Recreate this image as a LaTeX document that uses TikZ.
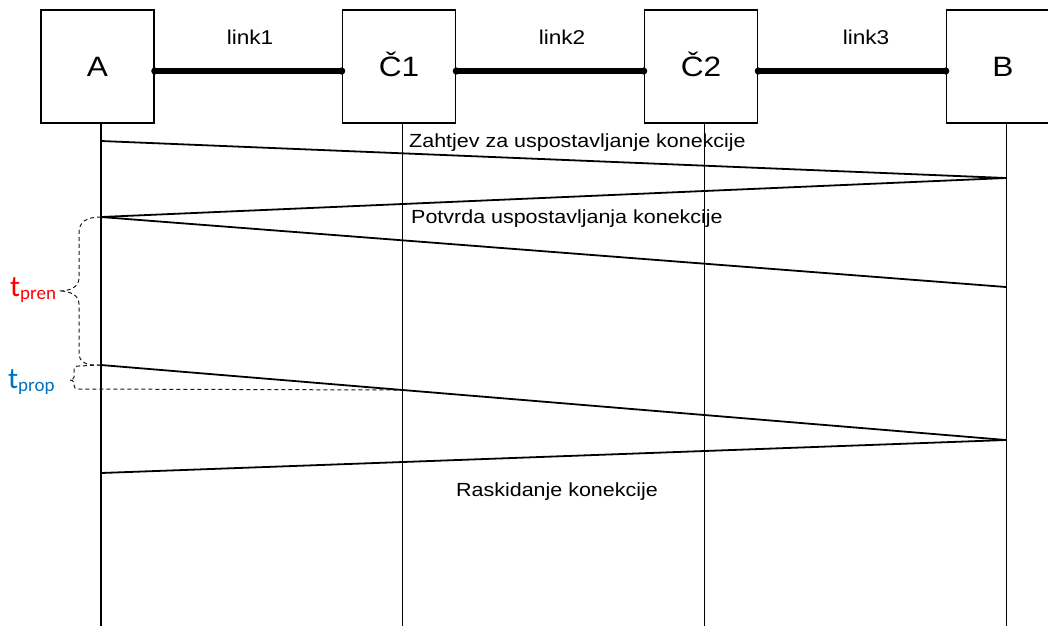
\documentclass[tikz,border=0pt]{standalone}
\usepackage{fontspec}
\usetikzlibrary{calc}
\setmainfont[FakeStretch=1.13]{Liberation Sans}
\newfontfamily\calib{Carlito}
\definecolor{tred}{RGB}{255,0,0}
\definecolor{tblue}{RGB}{0,112,192}
\begin{document}
\begin{tikzpicture}[x=1pt,y=-1pt,
  box/.style={draw, line width=1.6pt, minimum width=113pt, minimum height=113pt, inner sep=0pt,
    text height=20pt, text depth=0pt, font=\fontsize{28}{28}\selectfont},
  linkline/.style={line width=5.5pt},
  life/.style={line width=1.8pt},
  msg/.style={line width=1.8pt},
  brace/.style={line width=1pt, dash pattern=on 4pt off 3pt, black!90},
  lbl/.style={inner sep=0pt, font=\fontsize{20}{20}\selectfont},
  msgtxt/.style={inner sep=0pt, font=\fontsize{19}{19}\selectfont}]
\useasboundingbox (0,0) rectangle (1048,625);
% boxes
\node[box] (A)  at (97.5,66.5) {A};
\node[box] (C1) at (399,66.5) {Č1};
\node[box] (C2) at (701,66.5) {Č2};
\node[box] (B)  at (1003,66.5) {B};
% link end points
\coordinate (ae)  at ([yshift=-4.5]A.east);
\coordinate (c1w) at ([yshift=-4.5]C1.west);
\coordinate (c1e) at ([yshift=-4.5]C1.east);
\coordinate (c2w) at ([yshift=-4.5]C2.west);
\coordinate (c2e) at ([yshift=-4.5]C2.east);
\coordinate (bw)  at ([yshift=-4.5]B.west);
\draw[linkline] (ae) -- (c1w);
\draw[linkline] (c1e) -- (c2w);
\draw[linkline] (c2e) -- (bw);
\foreach \n in {ae,c1w,c1e,c2w,c2e,bw} \fill (\n) circle (3.6);
\node[lbl, anchor=base] (l1) at (250,44) {link1};
\node[lbl, anchor=base] (l2) at (562,44) {link2};
\node[lbl, anchor=base] (l3) at (866,44) {link3};
% lifelines
\coordinate (la) at ([xshift=3.5]A.south);
\coordinate (lc1) at ([xshift=3.5]C1.south);
\coordinate (lc2) at ([xshift=3.5]C2.south);
\coordinate (lb) at ([xshift=3.5]B.south);
\foreach \c in {la,lc1,lc2,lb} \draw[life] (\c) -- (\c |- 0,626);
% message points
\coordinate (m1s) at (101,141);
\coordinate (m1e) at (1006,178);
\coordinate (m2e) at (101,217);
\coordinate (m3e) at (1006,287);
\coordinate (m4s) at (101,365);
\coordinate (m4e) at (1006,440);
\coordinate (m5e) at (101,473);
\coordinate (m4c) at ($(m4s)!0.3337!(m4e)$);
\draw[msg] (m1s) -- (m1e);
\draw[msg] (m1e) -- (m2e);
\draw[msg] (m2e) -- (m3e);
\draw[msg] (m4s) -- (m4e);
\draw[msg] (m4e) -- (m5e);
% message texts
\node[msgtxt, anchor=base west] (z) at (409,147) {Zahtjev za uspostavljanje konekcije};
\node[msgtxt, anchor=base west] (p) at (411,223) {Potvrda uspostavljanja konekcije};
\node[msgtxt, anchor=base] (r) at (557,496) {Raskidanje konekcije};
% braces
\draw[brace] (m2e) .. controls (86,217) and (79,222) .. (79,233) -- (79,278)
  .. controls (79,287) and (70,291) .. (59,291)
  .. controls (70,291) and (79,295) .. (79,304) -- (79,353)
  .. controls (79,362) and (86,366) .. (m4s);
\draw[brace] (m4s) -- (79,366) .. controls (75,366) and (74,367) .. (74,371) -- (74,377)
  .. controls (74,379) and (72,380) .. (70,380)
  .. controls (72,380) and (74,381) .. (74,383) -- (74,385)
  .. controls (74,388) and (75,389) .. (79,389) -- (m4c);
% t labels
\node[anchor=base west, inner sep=0pt, text=tred] (tpren) at (10,296)
  {\calib\fontsize{30}{30}\selectfont t\raisebox{-3pt}{\fontsize{19}{19}\selectfont pren}};
\node[anchor=base west, inner sep=0pt, text=tblue] (tprop) at (8,388)
  {\calib\fontsize{30}{30}\selectfont t\raisebox{-3pt}{\fontsize{19}{19}\selectfont prop}};
\end{tikzpicture}
\end{document}
